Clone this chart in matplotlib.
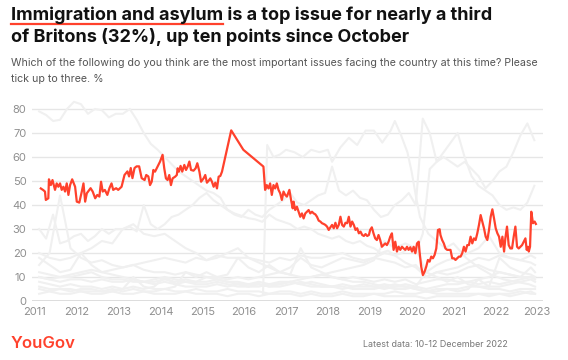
import numpy as np
import matplotlib
matplotlib.use("Agg")
import matplotlib.pyplot as plt
from matplotlib.lines import Line2D

# ---------------- data ----------------
imm_years = [2011.14, 2011.20, 2011.24, 2011.26, 2011.32, 2011.335, 2011.38, 2011.42, 2011.48, 2011.52,
             2011.56, 2011.60, 2011.64, 2011.68, 2011.72, 2011.76, 2011.80, 2011.84, 2011.89, 2011.96,
             2012.00, 2012.06, 2012.12, 2012.16, 2012.20, 2012.24, 2012.30, 2012.33, 2012.38, 2012.44,
             2012.49, 2012.54, 2012.58, 2012.62, 2012.67, 2012.73, 2012.78, 2012.83, 2012.87, 2012.94,
             2012.99, 2013.07, 2013.14, 2013.21, 2013.25, 2013.29, 2013.33, 2013.38, 2013.43, 2013.49,
             2013.55, 2013.62, 2013.66, 2013.71,
             2013.75, 2013.79, 2013.83, 2013.87, 2013.91, 2013.95, 2013.99, 2014.05, 2014.09, 2014.13,
             2014.17, 2014.21, 2014.25, 2014.29, 2014.35, 2014.39, 2014.41, 2014.44, 2014.48, 2014.52,
             2014.57, 2014.61, 2014.65, 2014.69, 2014.73, 2014.79, 2014.84, 2014.88, 2014.93, 2014.97,
             2015.03, 2015.07, 2015.11, 2015.15, 2015.19, 2015.23, 2015.27, 2015.31, 2015.35, 2015.39,
             2015.43, 2015.47, 2015.69, 2015.98, 2016.46,
             2016.50, 2016.54, 2016.58, 2016.62, 2016.66, 2016.70, 2016.74, 2016.78, 2016.82, 2016.86,
             2016.90, 2016.94, 2016.98, 2017.02, 2017.08, 2017.12, 2017.16, 2017.18, 2017.22, 2017.26,
             2017.30, 2017.34, 2017.38, 2017.42, 2017.46, 2017.50, 2017.54, 2017.58, 2017.62, 2017.66,
             2017.70, 2017.74, 2017.78, 2017.82, 2017.86, 2017.90, 2017.94, 2017.98, 2018.02, 2018.06,
             2018.10, 2018.14, 2018.18, 2018.22, 2018.26, 2018.30, 2018.34, 2018.38, 2018.42, 2018.46,
             2018.50, 2018.54, 2018.58, 2018.62, 2018.66, 2018.70, 2018.74, 2018.78, 2018.82, 2018.86,
             2018.90, 2018.94, 2018.98, 2019.01, 2019.05, 2019.09, 2019.13, 2019.17, 2019.21, 2019.25,
             2019.29, 2019.33, 2019.37, 2019.41, 2019.45,
             2019.49, 2019.53, 2019.57, 2019.61, 2019.65, 2019.69, 2019.73, 2019.77, 2019.81, 2019.85,
             2019.89, 2019.93, 2019.97, 2020.01, 2020.05, 2020.09, 2020.13, 2020.17, 2020.19, 2020.23,
             2020.27, 2020.31, 2020.35, 2020.39, 2020.43, 2020.47, 2020.51, 2020.55, 2020.59, 2020.63,
             2020.67, 2020.69, 2020.73, 2020.77, 2020.81, 2020.85, 2020.89, 2020.93, 2020.97, 2021.01,
             2021.05, 2021.09, 2021.13, 2021.17, 2021.21, 2021.25, 2021.29, 2021.33, 2021.37, 2021.41,
             2021.45, 2021.49, 2021.53, 2021.57, 2021.61, 2021.65, 2021.69, 2021.73, 2021.77, 2021.81,
             2021.85, 2021.89, 2021.93, 2021.97, 2022.01, 2022.05, 2022.09, 2022.13, 2022.17, 2022.21,
             2022.24, 2022.28, 2022.32, 2022.36, 2022.40, 2022.44, 2022.48, 2022.52, 2022.56, 2022.60,
             2022.64, 2022.68, 2022.72, 2022.75, 2022.78, 2022.80, 2022.83, 2022.86, 2022.90, 2022.94,
             2022.97]
imm_values = [46.9, 46.2, 45.6, 42.1, 42.8, 50.7, 48.3, 50.4, 46.3, 49.0,
              47.6, 49.0, 46.3, 47.6, 45.6, 49.0, 44.2, 48.3, 50.7, 47.6,
              41.4, 41.0, 45.6, 49.0, 41.4, 44.9, 46.3, 47.0, 45.6, 42.8,
              44.2, 43.5, 49.7, 45.6, 46.3, 44.2, 47.0, 49.0, 46.3, 47.0,
              46.3, 47.6, 52.5, 54.0, 51.9, 55.4, 51.2, 55.4, 56.1, 56.1,
              51.2, 50.4, 52.5, 51.9,
              48.3, 49.7, 54.6, 53.9, 55.3, 56.7, 58.1, 60.9, 55.3, 51.1,
              50.4, 52.5, 48.3, 51.1, 51.8, 52.5, 55.3, 53.9, 56.3, 53.9,
              56.7, 54.6, 56.0, 58.1, 54.6, 54.3, 55.3, 57.4, 53.9, 49.7,
              51.1, 52.5, 49.3, 50.1, 51.1, 49.7, 47.6, 49.3, 46.9, 51.8,
              52.1, 53.9, 71.1, 63.0, 56.0,
              46.3, 48.3, 46.9, 49.0, 44.2, 48.3, 46.9, 49.0, 46.3, 44.9,
              42.1, 45.6, 44.2, 43.5, 46.3, 42.1, 38.6, 41.4, 37.9, 39.3,
              37.2, 35.1, 36.5, 34.4, 36.5, 37.2, 37.9, 36.5, 37.2, 36.5,
              36.1, 35.1, 33.5, 33.1, 32.4, 32.1, 31.7, 31.0, 29.6, 30.7,
              31.7, 30.3, 32.6, 30.3, 31.7, 35.1, 31.7, 31.0, 32.6, 32.4,
              35.1, 31.0, 33.1, 31.7, 29.6, 30.3, 28.2, 28.9, 27.5, 27.1,
              27.9, 27.1, 27.5, 29.6, 30.7, 28.2, 26.1, 25.4, 27.5, 25.4,
              22.6, 23.3, 24.0, 23.3, 24.7,
              26.8, 28.2, 21.3, 24.7, 20.6, 22.6, 21.3, 22.6, 21.9, 21.3,
              22.6, 21.3, 22.4, 20.6, 22.6, 19.9, 24.0, 24.7, 20.6, 14.3,
              10.8, 12.2, 14.3, 17.1, 16.4, 18.5, 17.8, 19.2, 21.9, 29.6,
              29.9, 27.5, 25.4, 24.0, 21.9, 21.3, 21.3, 21.3, 17.8, 17.8,
              17.1, 17.8, 18.5, 18.5, 19.9, 22.6, 20.6, 23.3, 23.3, 26.8,
              24.0, 26.1, 25.4, 28.2, 31.7, 35.8, 33.1, 30.3, 26.8, 25.4,
              29.6, 35.1, 38.2, 34.4, 30.3, 28.2, 26.8, 22.6, 26.8, 20.6,
              26.1, 31.0, 23.3, 21.9, 21.9, 26.8, 31.0, 22.6, 21.9, 22.6,
              23.3, 24.7, 26.1, 21.3, 22.6, 20.6, 22.6, 37.2, 32.4, 33.1,
              32.1]

# background issues, two-monthly readings from 2011.1
econ_start, econ_step = 2011.1, 1 / 6
economy = [79, 77.5, 75, 75.5, 80, 83,
           82, 78, 80, 79.5, 76.5, 78,
           78, 80, 75.5, 70, 65.5, 63,
           60, 57, 54, 52, 50, 48,
           46, 45, 43, 38, 36.5, 35.5,
           34.5, 34, 33, 36, 34, 33,
           32, 30, 31, 30, 28, 27,
           26, 27, 25, 24, 25, 23,
           22, 20, 21, 19, 20, 22,
           20, 28, 55, 58, 60, 58,
           56, 58, 55, 52, 47, 50,
           54, 56, 62, 69, 74, 67]
health = [30, 26, 36, 24, 25, 27,
          28, 25, 27, 30, 28, 30,
          30, 31, 29, 40, 32, 30,
          32, 35, 36, 38, 40, 43,
          45, 42, 40, 38, 36, 35,
          38, 36, 35, 38, 40, 42,
          45, 41, 40, 42, 44, 45,
          56, 46, 44, 46, 43, 42,
          38, 35, 36, 40, 42, 45,
          40, 76, 70, 58, 62, 66,
          70, 60, 52, 48, 46, 44,
          40, 38, 39, 38, 41, 48]

brexit_years = [2016.45, 2016.55, 2016.7, 2016.85, 2017.0, 2017.2, 2017.4, 2017.6, 2017.8,
                2018.0, 2018.1, 2018.3, 2018.5, 2018.7, 2018.9, 2019.1, 2019.3, 2019.5, 2019.6,
                2019.75, 2019.9, 2020.0, 2020.1, 2020.2, 2020.4, 2020.6, 2020.8, 2021.0, 2021.3,
                2021.6, 2021.9, 2022.2, 2022.5, 2022.8, 2022.95]
brexit = [3, 65, 60, 61, 63, 62, 60, 63, 62,
          63, 58, 64, 68, 65, 71, 71, 66, 71, 75,
          69, 62, 54, 44, 35, 28, 25, 22, 24, 18,
          14, 11, 9, 8, 7, 6]

# quarterly readings from 2011.1 (last one at 2022.95)
q_start, q_step = 2011.1, 0.25
crime = [15, 20, 44, 22, 18, 16, 17, 15, 14, 15, 13, 12, 12, 11, 12, 11,
         10, 10, 9, 10, 9, 10, 11, 12, 14, 18, 15, 14, 16, 18, 17, 16,
         18, 20, 19, 16, 14, 10, 12, 11, 12, 14, 15, 13, 12, 11, 10, 10, 9]
housing = [10, 9, 10, 11, 12, 13, 12, 13, 14, 15, 16, 17, 18, 17, 16, 18,
           17, 19, 18, 18, 18, 17, 16, 18, 17, 19, 18, 18, 19, 20, 18, 17,
           18, 17, 16, 14, 15, 10, 12, 13, 14, 16, 18, 17, 19, 18, 17, 19, 18]
tax = [18, 15, 12, 13, 20, 15, 12, 11, 10, 9, 8, 8, 9, 8, 9, 8,
       10, 9, 8, 8, 7, 8, 7, 7, 8, 7, 8, 7, 6, 7, 6, 7,
       6, 7, 6, 7, 6, 5, 6, 7, 7, 8, 9, 10, 12, 11, 10, 14, 12]
welfare = [20, 18, 17, 18, 20, 22, 25, 24, 30, 32, 28, 27, 28, 25, 22, 20,
           17, 18, 20, 22, 18, 16, 14, 12, 11, 10, 10, 11, 10, 9, 10, 9,
           8, 9, 8, 9, 7, 8, 9, 9, 8, 8, 7, 8, 7, 8, 9, 10, 10]
environment = [8, 7, 6, 7, 6, 6, 5, 6, 5, 6, 5, 6, 10, 7, 6, 6,
               6, 7, 6, 7, 6, 6, 7, 8, 8, 9, 10, 11, 12, 13, 14, 15,
               17, 25, 22, 24, 22, 12, 15, 17, 18, 20, 22, 27, 20, 18, 17, 16, 15]
defence = [6, 5, 5, 5, 4, 4, 4, 4, 5, 10, 6, 5, 5, 6, 12, 10,
           12, 10, 11, 18, 14, 12, 15, 12, 11, 22, 14, 12, 10, 9, 8, 8,
           7, 6, 7, 6, 5, 4, 4, 5, 4, 5, 9, 6, 18, 14, 12, 11, 10]
pensions = [12, 11, 10, 10, 11, 12, 10, 9, 9, 8, 8, 9, 10, 9, 8, 8,
            8, 9, 8, 7, 7, 7, 6, 6, 7, 8, 7, 6, 6, 5, 6, 6,
            6, 5, 6, 6, 5, 4, 5, 5, 5, 6, 6, 6, 6, 7, 8, 9, 8]
education = [10, 9, 8, 9, 9, 8, 9, 8, 8, 9, 8, 7, 8, 7, 8, 7,
             7, 8, 7, 6, 6, 7, 6, 7, 8, 7, 6, 6, 6, 6, 5, 5,
             5, 6, 5, 5, 6, 12, 10, 8, 10, 7, 6, 5, 5, 4, 5, 5, 5]
transport = [3, 4, 3, 3, 4, 3, 3, 4, 3, 3, 4, 3, 3, 3, 4, 3,
             3, 3, 2, 3, 3, 2, 3, 3, 3, 2, 3, 2, 2, 3, 2, 2,
             3, 2, 2, 2, 2, 1, 2, 2, 2, 2, 3, 2, 3, 2, 3, 4, 3]
family = [5, 4, 5, 4, 5, 5, 4, 5, 4, 5, 4, 4, 5, 4, 4, 5,
          4, 4, 5, 4, 4, 4, 3, 4, 4, 3, 4, 3, 3, 4, 3, 3,
          3, 3, 4, 3, 3, 4, 3, 3, 3, 3, 3, 3, 3, 3, 4, 3, 3]

y_ticks = [0, 10, 20, 30, 40, 50, 60, 70, 80]
x_ticks = list(range(2011, 2024))

TITLE_A = "Immigration and asylum"
TITLE_B = " is a top issue for nearly a third"
TITLE_2 = "of Britons (32%), up ten points since October"
SUB_1 = "Which of the following do you think are the most important issues facing the country at this time? Please"
SUB_2 = "tick up to three. %"

RED = "#ff412c"
GREY_LINE = "#f0f0f0"

# ---------------- figure ----------------
W, H = 568, 360
fig = plt.figure(figsize=(W / 100, H / 100), dpi=100)
fig.patch.set_facecolor("white")

x0, x1 = 32, 543          # axes pixel extent
y_zero, y_top = 301, 94.6
ax = fig.add_axes([x0 / W, (H - y_zero) / H, (x1 - x0) / W, (y_zero - y_top) / H])
ax.set_xlim(2010.93, 2023.14)
ax.set_ylim(0, 86)

for v in y_ticks[1:]:
    ax.axhline(v, color="#e6e6e6", lw=1.0, zorder=0)

fine_years = econ_start + econ_step * np.arange(len(economy))
q_years = list(q_start + q_step * np.arange(len(crime) - 1)) + [2022.95]
for s in [crime, housing, tax, welfare, environment, defence, pensions, education, transport, family]:
    ax.plot(q_years, s, color=GREY_LINE, lw=1.5, zorder=1, solid_joinstyle="round")
ax.plot(fine_years, health, color=GREY_LINE, lw=1.5, zorder=1)
ax.plot(fine_years, economy, color=GREY_LINE, lw=1.5, zorder=1)
ax.plot(brexit_years, brexit, color=GREY_LINE, lw=1.5, zorder=1)

ax.plot(imm_years, imm_values, color=RED, lw=1.6, zorder=3, solid_joinstyle="round")

ax.axhline(0, color="#555555", lw=1.0, zorder=4)
for s in ["top", "right", "left", "bottom"]:
    ax.spines[s].set_visible(False)
ax.set_yticks(y_ticks)
ax.set_xticks(x_ticks)
ax.set_xticklabels([str(t) for t in x_ticks])
ax.tick_params(axis="both", length=0, labelsize=8, labelcolor="#8f8f8f")
ax.tick_params(axis="y", pad=4)
ax.tick_params(axis="x", pad=4)
for lab in ax.get_xticklabels() + ax.get_yticklabels():
    lab.set_family("Inter")

# ---------------- texts ----------------
def fx(px):
    return px / W

def fy(py):
    return 1 - py / H

renderer = fig.canvas.get_renderer()
tfont = dict(family="Inter", weight="bold", color="#111111")

# size title so the first line spans ~481 px
probe = fig.text(0, 0, TITLE_A + TITLE_B, fontsize=10, **tfont)
wprobe = probe.get_window_extent(renderer).width
probe.remove()
tsize = 10 * 481 / wprobe

fig.text(fx(11), fy(20), TITLE_A + TITLE_B, fontsize=tsize, va="baseline", **tfont)
fig.text(fx(11), fy(42), TITLE_2, fontsize=tsize, va="baseline", **tfont)
pa = fig.text(fx(11), fy(20), TITLE_A, fontsize=tsize, va="baseline", alpha=0, **tfont)
wa = pa.get_window_extent(renderer).width
fig.add_artist(Line2D([fx(11), fx(11 + wa)], [fy(24), fy(24)], color=RED, lw=1.6))

sfont = dict(family="Inter", color="#555555")
probe = fig.text(0, 0, SUB_1, fontsize=10, **sfont)
ws = probe.get_window_extent(renderer).width
probe.remove()
ssize = 10 * 527 / ws
fig.text(fx(11), fy(66), SUB_1, fontsize=ssize, va="baseline", **sfont)
fig.text(fx(11), fy(82), SUB_2, fontsize=ssize, va="baseline", **sfont)

fig.text(fx(11), fy(348), "YouGov", fontsize=12, color=RED, weight="semibold",
         family="Inter", va="baseline")
fig.text(fx(508), fy(347), "Latest data: 10-12 December 2022", fontsize=6.4,
         color="#777777", family="Inter", ha="right", va="baseline")

fig.savefig("out.png", dpi=100, facecolor="white")
